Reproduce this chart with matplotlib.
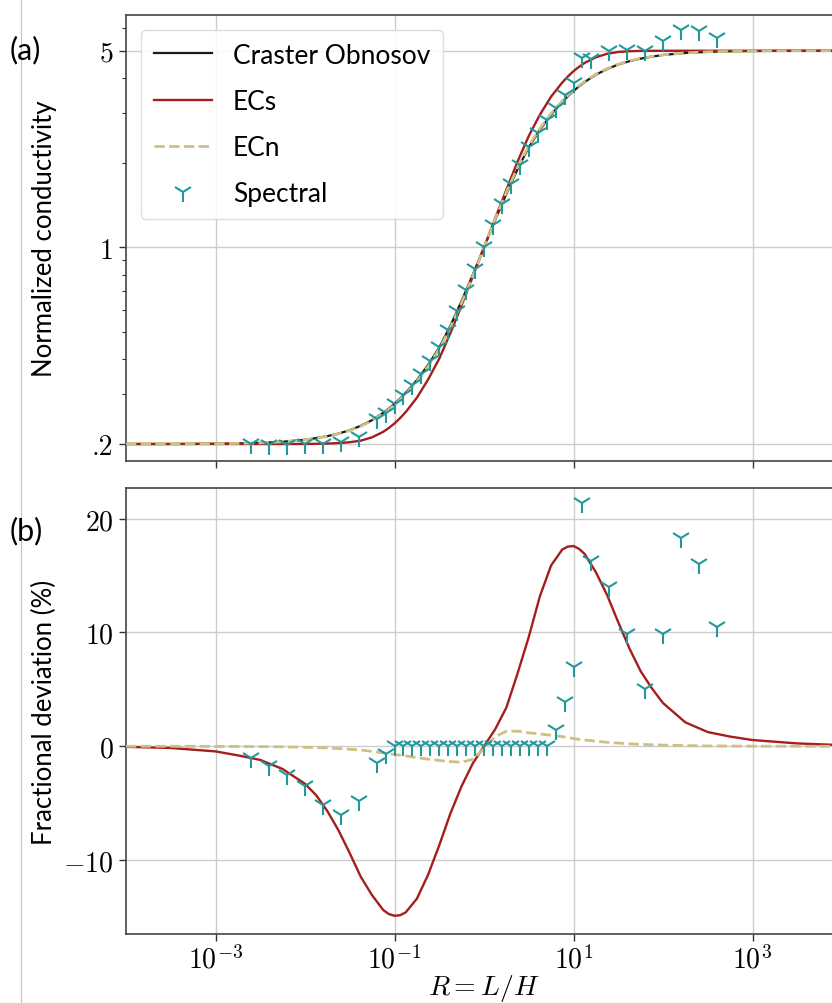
import numpy as np
import matplotlib
matplotlib.use("Agg")
import matplotlib.pyplot as plt
from matplotlib.lines import Line2D
from matplotlib.ticker import NullFormatter, NullLocator

plt.rcParams['font.family'] = ['Lato', 'DejaVu Sans']
plt.rcParams['mathtext.fontset'] = 'cm'

# log10(R) grid for the model curves
r_exp = [-4, -3.5, -3, -2.75, -2.5, -2.25,
         -2, -1.875, -1.75, -1.625, -1.5, -1.375, -1.25, -1.125, -1.0625,
         -1, -0.9375, -0.875, -0.75, -0.625, -0.5, -0.375, -0.25, -0.125,
         0, 0.125, 0.25, 0.375, 0.5, 0.625, 0.75, 0.875, 0.9375,
         1, 1.0625, 1.125, 1.25, 1.375, 1.5, 1.625, 1.75, 1.875, 2,
         2.25, 2.5, 2.75, 3, 3.5, 4]

# normalized conductivity (top panel)
craster_obnosov = [0.2000, 0.2000, 0.2004, 0.2009, 0.2018, 0.2037,
                   0.2070, 0.2099, 0.2133, 0.2178, 0.2239, 0.2323, 0.2432, 0.2582, 0.2676,
                   0.2780, 0.2901, 0.3040, 0.3373, 0.3820, 0.4405, 0.5271, 0.6456, 0.8000,
                   1.000, 1.250, 1.549, 1.897, 2.270, 2.618, 2.965, 3.289, 3.447,
                   3.597, 3.737, 3.873, 4.111, 4.305, 4.467, 4.592, 4.688, 4.764, 4.831,
                   4.909, 4.955, 4.977, 4.989, 4.998, 5.000]
ecs = [0.2000, 0.2000, 0.2000, 0.2000, 0.2000, 0.2000,
       0.2001, 0.2003, 0.2007, 0.2015, 0.2029, 0.2056, 0.2113, 0.2210, 0.2281,
       0.2366, 0.2472, 0.2596, 0.2921, 0.3388, 0.4022, 0.4960, 0.6230, 0.7880,
       1.000, 1.269, 1.602, 2.018, 2.488, 2.964, 3.436, 3.858, 4.052,
       4.230, 4.387, 4.528, 4.740, 4.878, 4.950, 4.982, 4.993, 4.997, 4.999,
       5.000, 5.000, 5.000, 5.000, 5.000, 5.000]
ecn = [0.2000, 0.2000, 0.2004, 0.2009, 0.2018, 0.2036,
       0.2068, 0.2096, 0.2130, 0.2174, 0.2233, 0.2315, 0.2421, 0.2567, 0.2659,
       0.2760, 0.2878, 0.3014, 0.3339, 0.3777, 0.4350, 0.5200, 0.6366, 0.7908,
       0.998, 1.261, 1.569, 1.922, 2.297, 2.646, 2.994, 3.317, 3.474,
       3.621, 3.760, 3.894, 4.129, 4.320, 4.480, 4.602, 4.696, 4.770, 4.836,
       4.912, 4.956, 4.977, 4.989, 4.998, 5.000]

# fractional deviation in % (bottom panel)
ecs_dev = [-0.05, -0.15, -0.45, -0.8, -1.2, -2.0,
           -3.3, -4.3, -5.7, -7.4, -9.4, -11.5, -13.1, -14.4, -14.75,
           -14.9, -14.85, -14.6, -13.4, -11.3, -8.7, -5.9, -3.5, -1.5,
           0.0, 1.5, 3.4, 6.4, 9.6, 13.2, 15.9, 17.3, 17.55,
           17.6, 17.35, 16.9, 15.3, 13.3, 10.9, 8.6, 6.6, 5.1, 3.8,
           2.1, 1.25, 0.85, 0.55, 0.25, 0.1]
ecn_dev = [0.0, 0.0, -0.01, -0.02, -0.03, -0.05,
           -0.09, -0.11, -0.15, -0.2, -0.26, -0.33, -0.45, -0.58, -0.65,
           -0.72, -0.78, -0.85, -1.0, -1.13, -1.25, -1.35, -1.4, -1.15,
           -0.2, 0.85, 1.32, 1.33, 1.18, 1.08, 0.97, 0.85, 0.77,
           0.68, 0.61, 0.55, 0.45, 0.35, 0.28, 0.22, 0.17, 0.13, 0.1,
           0.06, 0.03, 0.02, 0.01, 0.0, 0.0]

# spectral solution
spec_exp = [-2.6, -2.4, -2.2, -2.0, -1.8, -1.6, -1.4, -1.2, -1.1,
            -1.0, -0.9, -0.8, -0.7, -0.6, -0.5, -0.4, -0.3, -0.2, -0.1,
            0.0, 0.1, 0.2, 0.3, 0.4, 0.5, 0.6, 0.7,
            0.8, 0.9, 1.0, 1.1, 1.2, 1.4, 1.6, 1.8, 2.0, 2.2, 2.4, 2.6]
spec_sigma = [0.1995, 0.1990, 0.1990, 0.1995, 0.2005, 0.2040, 0.2120, 0.2455, 0.2585,
              0.2777, 0.2988, 0.3239, 0.3544, 0.3930, 0.4410, 0.5087, 0.5949, 0.7038, 0.8364,
              1.001, 1.198, 1.424, 1.684, 1.970, 2.272, 2.549, 2.828,
              3.134, 3.480, 3.849, 4.700, 4.680, 4.980, 5.050, 4.990, 5.400, 5.950, 5.870, 5.570]
spec_dev = [-1.0, -1.7, -2.5, -3.5, -5.2, -6.0, -4.8, -1.45, -0.7,
            0.0, 0.05, 0.05, 0.05, 0.05, 0.05, 0.05, 0.05, 0.05, 0.05,
            0.05, 0.05, 0.05, 0.05, 0.05, 0.05, 0.05, 0.05,
            1.4, 3.9, 7.0, 21.4, 16.3, 14.0, 9.9, 5.0, 9.9, 18.3, 16.0, 10.5]

R = 10.0 ** np.array(r_exp)
R_spec = 10.0 ** np.array(spec_exp)

c_co = '#1a1a1a'
c_ecs = '#a51d1d'
c_ecn = '#ccc182'
c_spec = '#21999b'

W, H = 832, 1004
fig = plt.figure(figsize=(W / 100, H / 100), dpi=100)
ax1 = fig.add_axes([126 / W, 1 - 462 / H, 716 / W, 446 / H])
ax2 = fig.add_axes([126 / W, 1 - 935 / H, 716 / W, 446 / H])

# top panel
ax1.plot(R, craster_obnosov, color=c_co, lw=1.6, label='Craster Obnosov', zorder=3)
ax1.plot(R, ecs, color=c_ecs, lw=1.7, label='ECs', zorder=4)
ax1.plot(R, ecn, color=c_ecn, lw=2.0, ls='--', label='ECn', zorder=5)
ax1.plot(R_spec, spec_sigma, ls='none', marker='1', ms=15, mew=1.5,
         color=c_spec, label='Spectral', zorder=6)

ax1.set_xscale('log')
ax1.set_yscale('log')
ax1.set_xlim(1e-4, 1e4)
ax1.set_ylim(0.174, 6.7)
ax1.set_yticks([0.2, 1, 5])
ax1.set_yticklabels(['.2', '1', '5'], fontfamily='cmr10')
ax1.yaxis.set_minor_formatter(NullFormatter())
ax1.set_ylabel('Normalized conductivity', fontsize=18.5)

leg = ax1.legend(loc='upper left', fontsize=19, handlelength=2.2, handletextpad=0.8,
                 labelspacing=0.8, borderaxespad=0.55, borderpad=0.5, framealpha=0.85,
                 edgecolor='#d8d8d8', fancybox=True)

# bottom panel
ax2.plot(R, ecs_dev, color=c_ecs, lw=1.7, zorder=4)
ax2.plot(R, ecn_dev, color=c_ecn, lw=2.0, ls='--', zorder=5)
ax2.plot(R_spec, spec_dev, ls='none', marker='1', ms=15, mew=1.5,
         color=c_spec, zorder=6)

ax2.set_xscale('log')
ax2.set_xlim(1e-4, 1e4)
ax2.set_ylim(-16.5, 22.7)
ax2.set_yticks([-10, 0, 10, 20])
ax2.set_yticklabels([r'$-10$', r'$0$', r'$10$', r'$20$'])
ax2.set_ylabel('Fractional deviation (%)', fontsize=18.5)
ax2.set_xlabel(r'$R = L/H$', fontsize=20, labelpad=0)

for ax in (ax1, ax2):
    ax.set_xticks([1e-3, 1e-1, 1e1, 1e3])
    ax.set_xticklabels([r'$10^{-3}$', r'$10^{-1}$', r'$10^{1}$', r'$10^{3}$'])
    ax.xaxis.set_minor_locator(NullLocator())
    ax.grid(True, which='major', color='#cccccc', lw=1.0)
    ax.set_axisbelow(True)
    ax.tick_params(which='major', direction='out', length=5, width=1,
                   labelsize=20, color='#333333', pad=4)
    ax.tick_params(axis='x', pad=2)
    ax.tick_params(which='minor', direction='out', length=3, width=0.8, color='#333333')
    for s in ax.spines.values():
        s.set_color('#444444')
        s.set_linewidth(1.2)
    ax.yaxis.set_label_coords((57 - 126) / 716, 0.5)

ax1.tick_params(labelbottom=False)

fig.text(10 / W, 1 - 50 / H, '(a)', fontsize=22, va='center', ha='left')
fig.text(10 / W, 1 - 531 / H, '(b)', fontsize=22, va='center', ha='left')
fig.add_artist(Line2D([21 / W, 21 / W], [0, 1], transform=fig.transFigure,
                      color='#c4c4c4', lw=0.8))

fig.savefig('out.png', dpi=100)
